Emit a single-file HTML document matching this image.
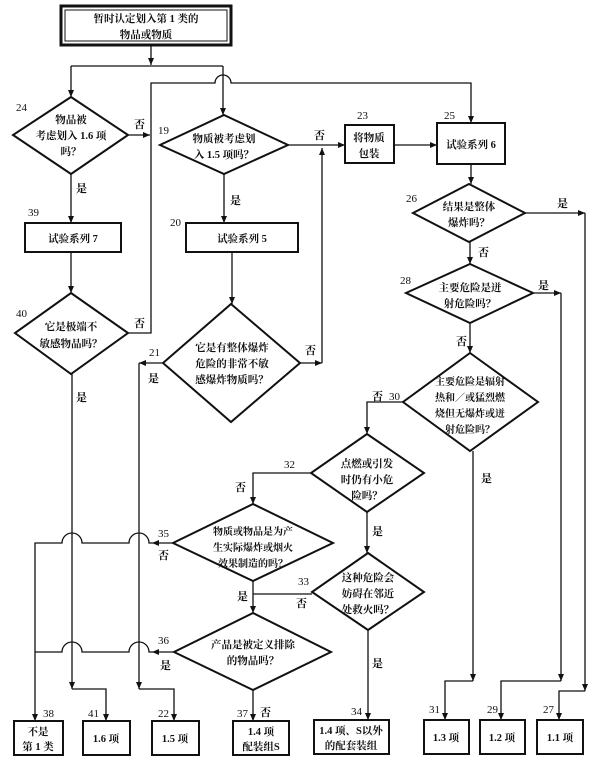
<!DOCTYPE html>
<html><head><meta charset="utf-8"><style>
html,body{margin:0;padding:0;background:#fff;}
svg{display:block;}
text{font-family:"Liberation Serif","Noto Serif CJK SC",serif;font-size:11px;fill:#111;font-weight:bold;}
.t{font-size:10.5px;}
.s{font-size:10px;}
.n{font-size:11px;font-weight:normal;}
</style></head><body>
<svg width="600" height="763" viewBox="0 0 600 763" xmlns="http://www.w3.org/2000/svg">
<defs><marker id="a" markerWidth="8" markerHeight="8" refX="7" refY="4" orient="auto" markerUnits="userSpaceOnUse"><path d="M0,1 L7,4 L0,7 z" fill="#111"/></marker></defs>
<g fill="none" stroke="#111" stroke-width="1.3">
<rect x="61" y="6" width="170" height="39" stroke-width="3"/>
<rect x="65" y="10" width="162" height="31" stroke-width="1"/>
<path d="M151,45 V65" marker-end="url(#a)"/>
<path d="M71,66 H223"/>
<path d="M71,66 V97" marker-end="url(#a)"/>
<path d="M223,66 V115" marker-end="url(#a)"/>
<path d="M128,333 H151 V83 H215 A8,8 0 0 1 231,83 H471 V123" marker-end="url(#a)"/>
<path d="M128,135 H150" marker-end="url(#a)"/>
<path d="M71,174 V223" marker-end="url(#a)"/>
<path d="M71,252 V293" marker-end="url(#a)"/>
<path d="M72,374 V689" marker-end="url(#a)"/>
<path d="M72,689 H106 V721" marker-end="url(#a)"/>
<path d="M224,174 V223" marker-end="url(#a)"/>
<path d="M232,252 V304" marker-end="url(#a)"/>
<path d="M288,145 H345" marker-end="url(#a)"/>
<path d="M300,363 H322" marker-end="url(#a)"/>
<path d="M322,363 V148" marker-end="url(#a)"/>
<path d="M394,145 H437" marker-end="url(#a)"/>
<path d="M471,164 V184" marker-end="url(#a)"/>
<path d="M525,213 H585" marker-end="url(#a)"/>
<path d="M585,213 V691" marker-end="url(#a)"/>
<path d="M585,691 H559 V720" marker-end="url(#a)"/>
<path d="M470,242 V264" marker-end="url(#a)"/>
<path d="M533,293 H561" marker-end="url(#a)"/>
<path d="M561,293 V681" marker-end="url(#a)"/>
<path d="M561,681 H501 V720" marker-end="url(#a)"/>
<path d="M470,323 V353" marker-end="url(#a)"/>
<path d="M473,451 V681" marker-end="url(#a)"/>
<path d="M473,681 H445 V720" marker-end="url(#a)"/>
<path d="M403,402 H367 V434" marker-end="url(#a)"/>
<path d="M311,473 H253 V504" marker-end="url(#a)"/>
<path d="M367,512 V553" marker-end="url(#a)"/>
<path d="M368,630 V720" marker-end="url(#a)"/>
<path d="M163,363 H139" marker-end="url(#a)"/>
<path d="M139,363 V689" marker-end="url(#a)"/>
<path d="M139,689 H174 V721" marker-end="url(#a)"/>
<path d="M173,543 H152" marker-end="url(#a)"/>
<path d="M152,543 H149 A10,10 0 0 0 129,543 H82 A10,10 0 0 0 62,543 H35 V721" marker-end="url(#a)"/>
<path d="M174,652 H152" marker-end="url(#a)"/>
<path d="M152,652 H149 A10,10 0 0 0 129,652 H82 A10,10 0 0 0 62,652 H35"/>
<path d="M253,581 V613" marker-end="url(#a)"/>
<path d="M253,594 H312"/>
<path d="M253,690 V721" marker-end="url(#a)"/>
</g>
<g fill="#fff" stroke="#111" stroke-width="2">
<polygon points="71,97 128,135 71,174 13,135"/>
<polygon points="224,115 288,145 224,174 160,145"/>
<polygon points="71,293 128,333 71,374 15,333"/>
<polygon points="231,304 300,363 231,422 163,363"/>
<polygon points="469,184 525,213 469,242 413,213"/>
<polygon points="470,264 533,293 470,323 406,293"/>
<polygon points="470,353 538,402 470,451 403,402"/>
<polygon points="367,434 424,473 367,512 311,473"/>
<polygon points="253,504 333,543 253,581 173,543"/>
<polygon points="368,553 424,592 368,630 312,592"/>
<polygon points="253,613 331,652 253,690 174,652"/>
<rect x="345" y="125" width="49" height="38"/>
<rect x="437" y="123" width="68" height="41"/>
<rect x="25" y="223" width="96" height="29"/>
<rect x="186" y="223" width="112" height="29"/>
<rect x="14" y="721" width="49" height="34"/>
<rect x="83" y="721" width="47" height="34"/>
<rect x="152" y="721" width="47" height="34"/>
<rect x="233" y="721" width="56" height="34"/>
<rect x="314" y="720" width="75" height="34"/>
<rect x="424" y="720" width="45" height="34"/>
<rect x="480" y="720" width="45" height="34"/>
<rect x="537" y="720" width="46" height="34"/>
</g>
<g text-anchor="middle" class="t">
<text class="t" x="146" y="22">暂时认定划入第 1 类的</text>
<text class="t" x="146" y="38">物品或物质</text>
<text class="t" x="71" y="123">物品被</text>
<text class="t" x="71" y="139">考虑划入 1.6 项</text>
<text class="t" x="71" y="155">吗？</text>
<text class="t" x="224" y="142">物质被考虑划</text>
<text class="t" x="224" y="158">入 1.5 项吗？</text>
<text class="t" x="369" y="141">将物质</text>
<text class="t" x="369" y="157">包装</text>
<text class="t" x="471" y="148">试验系列 6</text>
<text class="t" x="73" y="242">试验系列 7</text>
<text class="t" x="242" y="242">试验系列 5</text>
<text class="t" x="71" y="330">它是极端不</text>
<text class="t" x="71" y="347">敏感物品吗？</text>
<text class="t" x="232" y="351">它是有整体爆炸</text>
<text class="t" x="232" y="367">危险的非常不敏</text>
<text class="t" x="232" y="383">感爆炸物质吗？</text>
<text class="t" x="469" y="210">结果是整体</text>
<text class="t" x="469" y="226">爆炸吗？</text>
<text class="t" x="470" y="291">主要危险是迸</text>
<text class="t" x="470" y="307">射危险吗？</text>
<text class="s" x="470" y="385">主要危险是辐射</text>
<text class="s" x="470" y="401">热和／或猛烈燃</text>
<text class="s" x="470" y="417">烧但无爆炸或迸</text>
<text class="s" x="470" y="433">射危险吗？</text>
<text class="t" x="367" y="467">点燃或引发</text>
<text class="t" x="367" y="483">时仍有小危</text>
<text class="t" x="367" y="499">险吗？</text>
<text class="s" x="253" y="535">物质或物品是为产</text>
<text class="s" x="253" y="551">生实际爆炸或烟火</text>
<text class="s" x="253" y="567">效果制造的吗？</text>
<text class="t" x="368" y="581">这种危险会</text>
<text class="t" x="368" y="597">妨碍在邻近</text>
<text class="t" x="368" y="613">处救火吗？</text>
<text class="t" x="253" y="648">产品是被定义排除</text>
<text class="t" x="253" y="664">的物品吗？</text>
<text class="t" x="38" y="735">不是</text>
<text class="t" x="38" y="750">第 1 类</text>
<text class="t" x="106" y="742">1.6 项</text>
<text class="t" x="175" y="742">1.5 项</text>
<text class="t" x="261" y="735">1.4 项</text>
<text class="t" x="261" y="750">配装组S</text>
<text class="t" x="351" y="734">1.4 项、S以外</text>
<text class="t" x="351" y="749">的配套装组</text>
<text class="t" x="446" y="741">1.3 项</text>
<text class="t" x="502" y="741">1.2 项</text>
<text class="t" x="560" y="741">1.1 项</text>
</g>
<g>
<text class="n" x="16" y="111">24</text>
<text x="134" y="128">否</text>
<text class="n" x="158" y="134">19</text>
<text x="314" y="139">否</text>
<text class="n" x="357" y="119">23</text>
<text class="n" x="444" y="119">25</text>
<text x="76" y="192">是</text>
<text class="n" x="28" y="216">39</text>
<text x="230" y="204">是</text>
<text class="n" x="170" y="226">20</text>
<text class="n" x="16" y="317">40</text>
<text x="134" y="327">否</text>
<text x="76" y="401">是</text>
<text class="n" x="149" y="356">21</text>
<text x="148" y="382">是</text>
<text x="305" y="354">否</text>
<text class="n" x="406" y="202">26</text>
<text x="557" y="207">是</text>
<text x="478" y="256">否</text>
<text class="n" x="400" y="284">28</text>
<text x="538" y="289">是</text>
<text x="456" y="345">否</text>
<text x="372" y="400">否</text>
<text class="n" x="389" y="400">30</text>
<text x="481" y="482">是</text>
<text class="n" x="284" y="468">32</text>
<text x="235" y="491">否</text>
<text x="372" y="535">是</text>
<text class="n" x="158" y="537">35</text>
<text x="158" y="559">否</text>
<text x="237" y="600">是</text>
<text class="n" x="298" y="585">33</text>
<text x="296" y="607">否</text>
<text class="n" x="158" y="644">36</text>
<text x="160" y="669">是</text>
<text x="372" y="667">是</text>
<text class="n" x="43" y="717">38</text>
<text class="n" x="88" y="717">41</text>
<text class="n" x="158" y="717">22</text>
<text class="n" x="237" y="717">37</text>
<text x="260" y="716">否</text>
<text class="n" x="351" y="715">34</text>
<text class="n" x="429" y="713">31</text>
<text class="n" x="487" y="713">29</text>
<text class="n" x="543" y="713">27</text>
</g>
</svg>
</body></html>
